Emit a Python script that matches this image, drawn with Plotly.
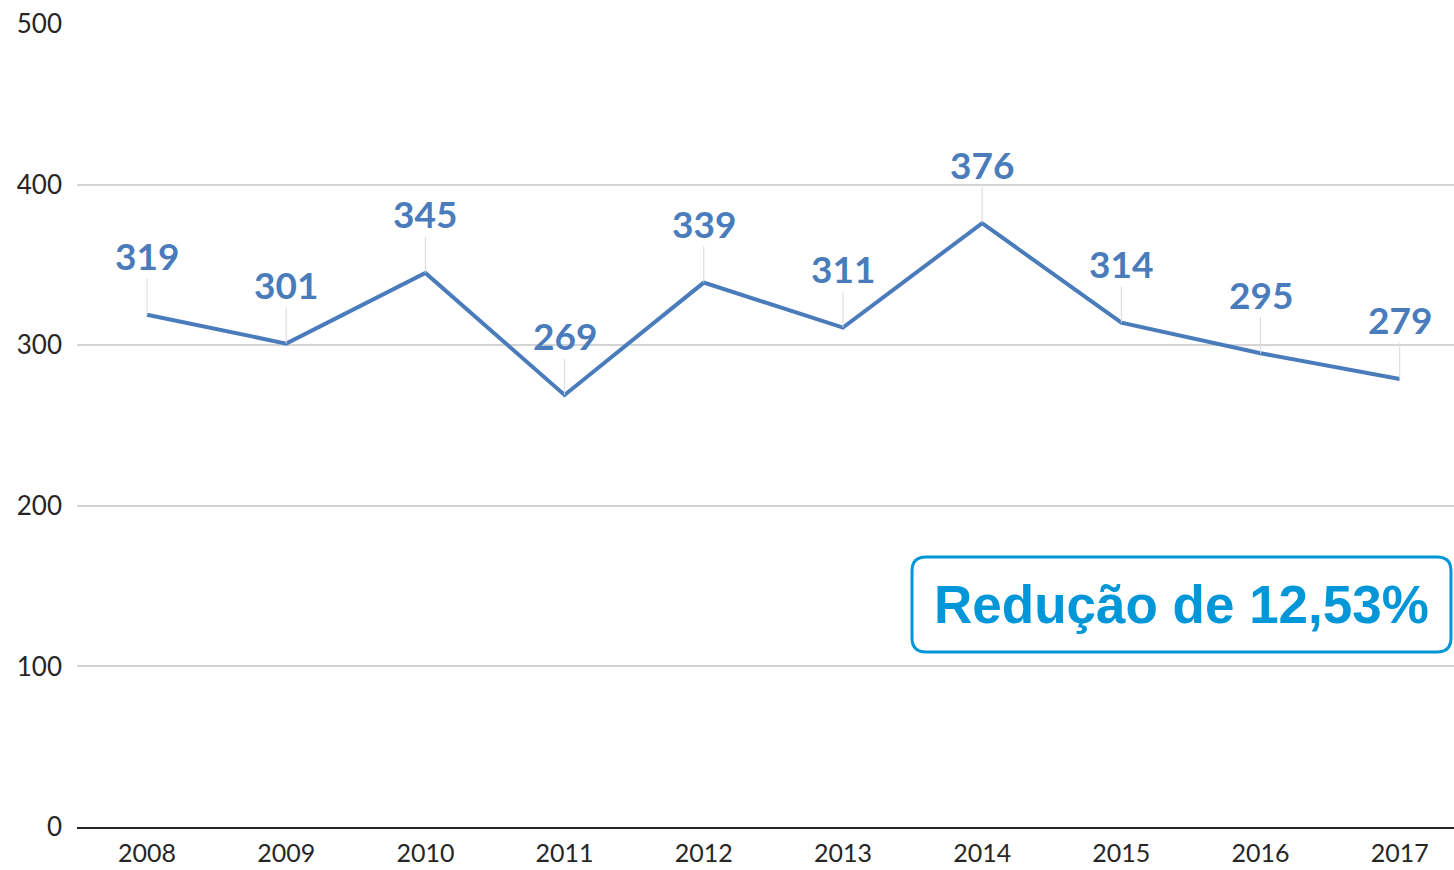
import plotly.graph_objects as go

years = ["2008", "2009", "2010", "2011", "2012", "2013", "2014", "2015", "2016", "2017"]
values = [319, 301, 345, 269, 339, 311, 376, 314, 295, 279]
y_ticks = [0, 100, 200, 300, 400, 500]
note_text = "Redução de 12,53%"

line_color = "#4a7cbc"
label_color = "#4a7cbc"
box_color = "#0096d8"

fig = go.Figure()
fig.add_trace(go.Scatter(
    x=list(range(len(years))), y=values, mode="lines",
    line=dict(color=line_color, width=4), hoverinfo="skip", showlegend=False,
))

for i, v in enumerate(values):
    fig.add_annotation(
        x=i, y=v, xref="x", yref="y", text=str(v),
        showarrow=True, arrowhead=0, arrowwidth=1, arrowcolor="#d9d9d9",
        ax=0, ay=-59, standoff=0, startstandoff=0,
        font=dict(family="Lato", size=37, color=label_color, weight="bold"),
        borderpad=0,
    )

# rounded box (paper coords)
x0, x1 = 0.6064, 0.9978
y0, y1 = 0.2179, 0.3362
rx, ry = 0.0102, 0.0174
path = (f"M {x0+rx},{y0} L {x1-rx},{y0} Q {x1},{y0} {x1},{y0+ry} "
        f"L {x1},{y1-ry} Q {x1},{y1} {x1-rx},{y1} L {x0+rx},{y1} "
        f"Q {x0},{y1} {x0},{y1-ry} L {x0},{y0+ry} Q {x0},{y0} {x0+rx},{y0} Z")
fig.add_shape(type="path", path=path, xref="paper", yref="paper",
              line=dict(color=box_color, width=3), fillcolor="white")
fig.add_annotation(
    x=(x0 + x1) / 2, y=(y0 + y1) / 2, xref="paper", yref="paper",
    xanchor="center", yanchor="middle",
    text=note_text, showarrow=False,
    font=dict(family="Liberation Sans", size=53, color=box_color, weight="bold"),
)

fig.update_xaxes(
    tickmode="array", tickvals=list(range(len(years))), ticktext=years,
    range=[-0.503, 9.39], showgrid=False, zeroline=False,
    showline=True, linecolor="#262626", linewidth=2,
    ticks="", ticklabelstandoff=3, automargin=False,
    tickfont=dict(family="Lato", size=25, color="#262626"),
)
fig.update_yaxes(
    range=[0, 500], tickvals=y_ticks, showgrid=True, gridcolor="#d4d4d4", gridwidth=2,
    zeroline=False, showline=False, ticks="", ticklabelstandoff=14, automargin=False,
    tickfont=dict(family="Lato", size=26, color="#262626"),
)
fig.update_layout(
    width=1454, height=870,
    margin=dict(l=77, r=0, t=24, b=43),
    plot_bgcolor="white", paper_bgcolor="white",
)
fig.write_html("out.html", config={"displayModeBar": False},
               post_script="document.body.style.margin='0';document.body.style.overflow='hidden';")
